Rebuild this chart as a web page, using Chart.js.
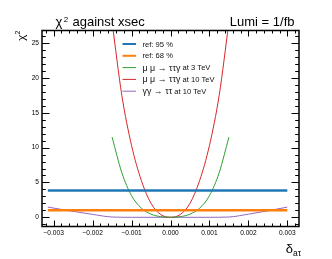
<!DOCTYPE html>
<html>
<head>
<meta charset="utf-8">
<title>chi2 against xsec</title>
<script src="https://cdn.jsdelivr.net/npm/chart.js@4/dist/chart.umd.min.js"></script>
<style>
    html, body { margin: 0; padding: 0; background: #fff; }
    #chi2Chart { display: block; }
</style>
</head>
<body>
<canvas id="chi2Chart" width="332" height="259"></canvas>
<script>
// Data
var seriesLabels = ['ref: 95 %', 'ref: 68 %', 'μ μ → ττγ at 3 TeV', 'μ μ → ττγ at 10 TeV', 'γγ → ττ at 10 TeV'];

var xRef = [-0.00315, 0.003];
var ref95 = [3.84, 3.84];
var ref68 = [1.0, 1.0];

var xMuMu = [-0.0015, -0.00125, -0.001, -0.00075, -0.0005, -0.00025, 0, 0.00025, 0.0005, 0.00075, 0.001, 0.00125, 0.0015];
var chi2MuMu3 = [11.5, 6.4, 3.1, 1.32, 0.45, 0.09, 0, 0.09, 0.45, 1.32, 3.1, 6.4, 11.5];
var chi2MuMu10 = [28, 17.5, 10.3, 5.3, 2.0, 0.4, 0, 0.4, 2.0, 5.3, 10.3, 17.5, 28];

var xGaGa = [-0.00315, -0.0025, -0.002, -0.0015, -0.001, 0, 0.001, 0.0015, 0.002, 0.0025, 0.003];
var chi2GaGa10 = [1.46, 0.85, 0.42, 0.04, 0, 0, 0, 0.04, 0.45, 0.93, 1.46];

var xTicks = [-0.003, -0.002, -0.001, 0, 0.001, 0.002, 0.003];
var yTicks = [0, 5, 10, 15, 20, 25];

var FONT = "'Liberation Sans', Arial, sans-serif";

function toPoints(xs, ys) {
    var pts = [];
    for (var i = 0; i < xs.length; i++) pts.push({ x: xs[i], y: ys[i] });
    return pts;
}

function fmtX(v) {
    if (Math.abs(v) < 1e-9) return '0.000';
    return (v < 0 ? '\u2212' : '') + Math.abs(v).toFixed(3);
}

// ROOT-like frame with inner ticks on all four sides
var framePlugin = {
    id: 'rootFrame',
    afterDatasetsDraw: function(chart) {
        var ctx = chart.ctx, a = chart.chartArea;
        var xs = chart.scales.x, ys = chart.scales.y;
        ctx.save();
        ctx.strokeStyle = '#000';
        ctx.lineWidth = 1;
        ctx.beginPath();
        // x ticks: major 0.001, minor 0.0002
        for (var k = -20; k <= 20; k++) {
            var v = k * 0.0002;
            if (v < xs.min || v > xs.max) continue;
            var px = Math.round(xs.getPixelForValue(v)) + 0.5;
            var len = (k % 5 === 0) ? 6 : 3;
            ctx.moveTo(px, a.bottom); ctx.lineTo(px, a.bottom - len);
            ctx.moveTo(px, a.top); ctx.lineTo(px, a.top + len);
        }
        // y ticks: major 5, minor 1
        for (var j = -1; j <= 27; j++) {
            if (j < ys.min || j > ys.max) continue;
            var py = Math.round(ys.getPixelForValue(j)) + 0.5;
            var ylen = (j % 5 === 0) ? 7.5 : 3.8;
            ctx.moveTo(a.left, py); ctx.lineTo(a.left + ylen, py);
            ctx.moveTo(a.right, py); ctx.lineTo(a.right - ylen, py);
        }
        ctx.stroke();
        ctx.lineWidth = 1.5;
        ctx.strokeRect(a.left, a.top, a.right - a.left, a.bottom - a.top);
        ctx.restore();
    }
};

// Legend drawn as a ROOT-style box-less list inside the frame
// (greek part of the label is set a bit wider, like ROOT's symbol font)
var legendPlugin = {
    id: 'rootLegend',
    afterDraw: function(chart) {
        var ctx = chart.ctx;
        var x0 = 122.5, x1 = 136, tx = 142.5, y0 = 44, dy = 11.8;
        ctx.save();
        ctx.textBaseline = 'middle';
        ctx.fillStyle = '#111';
        chart.data.datasets.forEach(function(ds, i) {
            var y = y0 + i * dy;
            ctx.strokeStyle = ds.borderColor;
            ctx.lineWidth = ds.borderWidth >= 2 ? 2 : 1;
            ctx.beginPath();
            ctx.moveTo(x0, y); ctx.lineTo(x1, y);
            ctx.stroke();

            var parts = ds.label.split(' at ');
            if (parts.length === 2) {
                ctx.font = '8.9px ' + FONT;
                ctx.fillText(parts[0], tx, y + 0.5);
                var w = ctx.measureText(parts[0]).width;
                ctx.font = '7.6px ' + FONT;
                ctx.fillText(' at ' + parts[1], tx + w, y + 0.5);
            } else {
                ctx.font = '7.6px ' + FONT;
                ctx.fillText(ds.label, tx, y + 0.5);
            }
        });
        ctx.restore();
    }
};

// Titles: plot title, lumi, axis titles with super/subscripts
var titlePlugin = {
    id: 'rootTitles',
    afterDraw: function(chart) {
        var ctx = chart.ctx, a = chart.chartArea;
        ctx.save();
        ctx.fillStyle = '#000';
        ctx.textBaseline = 'alphabetic';

        // top-left title
        ctx.font = '13px ' + FONT;
        ctx.textAlign = 'left';
        ctx.fillText('χ', 55.5, 26);
        ctx.font = '8px ' + FONT;
        ctx.fillText('2', 63.8, 21.5);
        ctx.font = '13px ' + FONT;
        ctx.fillText('against xsec', 72.5, 26);

        // top-right lumi
        ctx.textAlign = 'right';
        ctx.fillText('Lumi = 1/fb', 294.5, 26);

        // x axis title: delta_{a tau}
        ctx.textAlign = 'left';
        ctx.font = '13px ' + FONT;
        var wD = ctx.measureText('δ').width;
        ctx.font = '8.5px ' + FONT;
        var wS = ctx.measureText('aτ').width;
        var sx = 301 - wD - wS;
        ctx.font = '13px ' + FONT;
        ctx.fillText('δ', sx, 253);
        ctx.font = '8.5px ' + FONT;
        ctx.fillText('aτ', sx + wD, 256);

        // y axis title: chi^2, rotated, right-aligned to frame top
        ctx.translate(24.5, a.top);
        ctx.rotate(-Math.PI / 2);
        ctx.textAlign = 'right';
        ctx.font = '7px ' + FONT;
        ctx.fillText('2', 0, -4.5);
        var w2 = ctx.measureText('2').width;
        ctx.font = '11.5px ' + FONT;
        ctx.fillText('χ', -w2 - 0.3, 0);
        ctx.restore();
    }
};

function lineSet(label, pts, color, width) {
    return {
        label: label,
        data: pts,
        borderColor: color,
        backgroundColor: color,
        borderWidth: width,
        pointRadius: 0,
        fill: false,
        cubicInterpolationMode: 'monotone'
    };
}

function initChi2Chart() {
    var ctx = document.getElementById('chi2Chart');
    new Chart(ctx, {
        type: 'line',
        data: {
            datasets: [
                lineSet(seriesLabels[0], toPoints(xRef, ref95), '#1f77b4', 2.5),
                lineSet(seriesLabels[1], toPoints(xRef, ref68), '#ff7f0e', 2.5),
                lineSet(seriesLabels[2], toPoints(xMuMu, chi2MuMu3), '#2ca02c', 1),
                lineSet(seriesLabels[3], toPoints(xMuMu, chi2MuMu10), '#d62728', 1),
                lineSet(seriesLabels[4], toPoints(xGaGa, chi2GaGa10), '#9467bd', 1)
            ]
        },
        options: {
            responsive: false,
            animation: false,
            devicePixelRatio: 1,
            layout: { padding: { top: 30.5, right: 33, left: 0, bottom: 0 } },
            plugins: {
                legend: { display: false },
                tooltip: { enabled: false }
            },
            scales: {
                x: {
                    type: 'linear',
                    min: -0.0033,
                    max: 0.0033,
                    grid: { display: false, drawTicks: false },
                    border: { display: false },
                    afterBuildTicks: function(scale) {
                        scale.ticks = xTicks.map(function(v) { return { value: v }; });
                    },
                    afterFit: function(scale) { scale.height = 32.5; },
                    ticks: {
                        padding: 2.5,
                        maxRotation: 0,
                        autoSkip: false,
                        color: '#000',
                        font: { family: FONT, size: 6.6 },
                        callback: function(v) { return fmtX(v); }
                    }
                },
                y: {
                    min: -1.32,
                    max: 26.8,
                    grid: { display: false, drawTicks: false },
                    border: { display: false },
                    afterBuildTicks: function(scale) {
                        scale.ticks = yTicks.map(function(v) { return { value: v }; });
                    },
                    afterFit: function(scale) { scale.width = 42; },
                    ticks: {
                        padding: 3,
                        autoSkip: false,
                        color: '#000',
                        font: { family: FONT, size: 6.6 }
                    }
                }
            }
        },
        plugins: [framePlugin, legendPlugin, titlePlugin]
    });
}

document.addEventListener('DOMContentLoaded', function() {
    if (typeof Chart !== 'undefined') {
        initChi2Chart();
    }
});
</script>
</body>
</html>
